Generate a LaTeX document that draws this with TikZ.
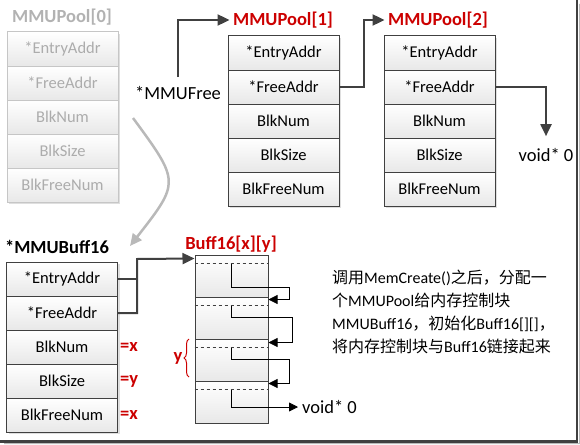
\documentclass[tikz,border=0pt]{standalone}
\usepackage{fontspec}
\setmainfont{Carlito}
\newfontfamily\cjk{Noto Sans CJK SC}
\usetikzlibrary{arrows.meta,shadows,decorations.pathreplacing}
\begin{document}
\begin{tikzpicture}[x=1pt,y=-1pt,
	cell/.style={draw=black!75,line width=1pt,top color=white,bottom color=gray!18,minimum width=111pt,minimum height=34pt,inner sep=0pt,font=\fontsize{16.5}{20}\selectfont,drop shadow={shadow xshift=2pt,shadow yshift=-2pt,opacity=.25}},
	oldcell/.style={cell,draw=gray!45,text=gray!65},
	head/.style={font=\bfseries\fontsize{18.5}{22}\selectfont,text=red!80!black},
	lbl/.style={font=\fontsize{18.5}{22}\selectfont,inner sep=2pt},
	blk/.style={draw=black!75,line width=1pt,top color=white,bottom color=gray!18,minimum width=73pt,minimum height=42pt,inner sep=0pt},
	bigarrow/.style={draw=black!75,line width=2pt,-{Triangle[length=12pt,width=11pt]}},
	smallarrow/.style={line width=.8pt,-{Triangle[length=9pt,width=9pt]}}]
	\useasboundingbox (0,0) rectangle (580,444);
	%FRAME
	\fill[gray!55] (579,4) rectangle (580,444) (4,443) rectangle (580,444);
	\draw[black!75,line width=2.5pt] (577,0) -- (577,441.5) -- (0,441.5);
	%POOL 0
	\node[head,text=gray!60] (t0) at (62,17) {MMUPool[0]};
	\foreach \t [count=\i] in {*EntryAddr,*FreeAddr,BlkNum,BlkSize,BlkFreeNum}
		\node[oldcell] (pa\i) at (62.5,15+34*\i) {\t};
	%POOL 1
	\node[head] (t1) at (283,20) {MMUPool[1]};
	\foreach \t [count=\i] in {*EntryAddr,*FreeAddr,BlkNum,BlkSize,BlkFreeNum}
		\node[cell] (pb\i) at (283.5,19+34*\i) {\t};
	%POOL 2
	\node[head] (t2) at (438,20) {MMUPool[2]};
	\foreach \t [count=\i] in {*EntryAddr,*FreeAddr,BlkNum,BlkSize,BlkFreeNum}
		\node[cell] (pc\i) at (439.5,19+34*\i) {\t};
	%FREE LIST
	\node[lbl] (free) at (178,93) {*MMUFree};
	\draw[bigarrow] ([yshift=7pt]free.north) |- (t1.west);
	\draw[bigarrow] (pb2.east) -- ++(24,0) |- (t2.west);
	\node[lbl] (void1) at (546,155) {void* 0};
	\draw[bigarrow] (pc2.east) -| ([yshift=10pt]void1.north);
	%HAND OUT POOL 0
	\draw[gray!55,line width=2.5pt,-{Triangle[length=12pt,width=11pt]}] (133,118) .. controls (180,182) .. (130,246);
	%MMUBUFF16
	\node[head,text=black] (tq) at (57,247) {*MMUBuff16};
	\foreach \t [count=\i] in {*EntryAddr,*FreeAddr,BlkNum,BlkSize,BlkFreeNum}
		\node[cell] (qa\i) at (62,245+34*\i) {\t};
	\foreach \r [count=\i from 3] in {x,y,x}
		\node[head,right,inner sep=2pt] at (qa\i.east) {=\r};
	%BUFF16
	\node[head] (tb) at (231,244) {Buff16[x][y]};
	\foreach \i in {1,...,4}{
		\node[blk] (b\i) at (231.5,234+42*\i) {};
		\coordinate (d\i) at ([yshift=-9pt]b\i.north);
		\draw[dashed,black!75] ([yshift=-9pt]b\i.north west) -- ([yshift=-9pt]b\i.north east);
	}
	\coordinate (jn) at (137,259);
	\draw[black!75,line width=2pt] (qa1.east) -- (qa1.east -| jn);
	\draw[bigarrow] (qa2.east) -| (jn) -- ([yshift=-4pt]b1.north west);
	\draw[smallarrow] (d1) |- (289,287) |- ([yshift=-3pt]b2.north east);
	\draw[smallarrow] (d2) |- (292,317) |- ([yshift=-4pt]b3.north east);
	\draw[smallarrow] (d3) |- (289,359) |- ([yshift=-3pt]b4.north east);
	\node[lbl,right,inner xsep=4pt] (void2) at (298,407) {void* 0};
	\draw[smallarrow] (d4) |- (void2.west);
	\draw[red!80!black,line width=1pt,decorate,decoration={brace,amplitude=5pt}] (189,377) -- (189,339) node[midway,left=6pt,head,inner sep=0pt] {y};
	%NOTE
	\node[anchor=north west,align=left,inner sep=0pt,font=\fontsize{16}{23}\selectfont] (note) at (332,270) {{\cjk 调用}MemCreate(){\cjk 之后，分配一}\\{\cjk 个}MMUPool{\cjk 给内存控制块}\\MMUBuff16{\cjk ，初始化}Buff16[][]{\cjk ，}\\{\cjk 将内存控制块与}Buff16{\cjk 链接起来}};
\end{tikzpicture}
\end{document}
